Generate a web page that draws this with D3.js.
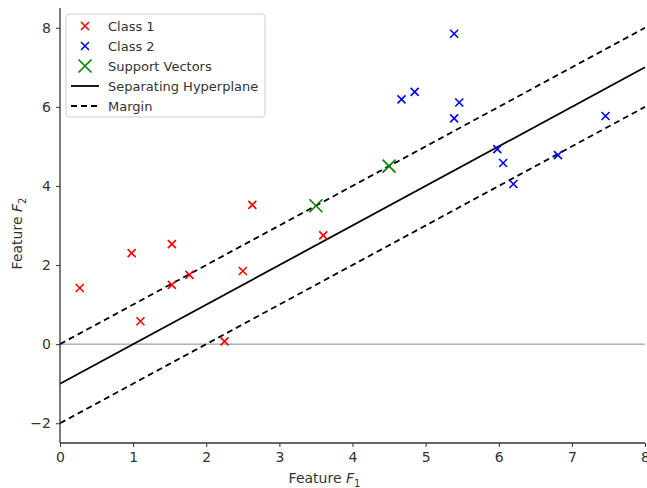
<!DOCTYPE html>
<html>
<head>
<meta charset="utf-8">
<script src="https://cdn.jsdelivr.net/npm/d3@7"></script>
<style>
  body { margin: 0; background: #fff; }
  text { font-family: "DejaVu Sans", sans-serif; fill: #333; }
  .axis path, .axis line { stroke: #333; }
</style>
</head>
<body>
<div id="chart"></div>
<script>
var class1X = [0.27, 0.98, 1.10, 1.53, 1.53, 1.77, 2.25, 2.50, 2.63, 3.60];
var class1Y = [1.42, 2.30, 0.58, 2.53, 1.50, 1.75, 0.07, 1.85, 3.52, 2.75];
var class2X = [5.39, 4.67, 4.85, 5.46, 5.39, 5.98, 6.06, 6.20, 6.81, 7.46];
var class2Y = [7.85, 6.19, 6.38, 6.11, 5.71, 4.93, 4.58, 4.05, 4.78, 5.77];
var supportX = [3.5, 4.5];
var supportY = [3.5, 4.5];
// hyperplane w.x + b: F2 = F1 + offset
var lineOffsets = [-1, 0, -2];
var lineNames = ["Separating Hyperplane", "Margin", "Margin"];
var xTicks = [0, 1, 2, 3, 4, 5, 6, 7, 8];
var yTicks = [-2, 0, 2, 4, 6, 8];

var svgWidth = 647, svgHeight = 488;
var margin = { top: 8, right: 2, bottom: 45, left: 60 };
var chartWidth = svgWidth - margin.left - margin.right;
var chartHeight = svgHeight - margin.top - margin.bottom;

var svg = d3.select("#chart").append("svg")
    .attr("width", svgWidth)
    .attr("height", svgHeight);

var chartGroup = svg.append("g")
    .attr("transform", `translate(${margin.left}, ${margin.top})`);

var x = d3.scaleLinear().domain([0, 8]).range([0, chartWidth]);
var y = d3.scaleLinear().domain([-2.5, 8.5]).range([chartHeight, 0]);

// zero line
chartGroup.append("line")
    .attr("x1", x(0)).attr("x2", x(8))
    .attr("y1", y(0)).attr("y2", y(0))
    .attr("stroke", "#888").attr("stroke-width", 1);

// hyperplane and margins
lineOffsets.forEach(function(off, i) {
    var line = d3.line().x(d => x(d)).y(d => y(d + off));
    chartGroup.append("path")
        .datum([0, 8])
        .attr("d", line)
        .attr("fill", "none")
        .attr("stroke", "#000")
        .attr("stroke-width", 1.8)
        .attr("stroke-dasharray", i == 0 ? null : "6,4");
});

function cross(g, cx, cy, size, color, width) {
    g.append("path")
        .attr("d", `M${cx - size},${cy - size}L${cx + size},${cy + size}M${cx - size},${cy + size}L${cx + size},${cy - size}`)
        .attr("stroke", color)
        .attr("stroke-width", width)
        .attr("fill", "none");
}

class1X.forEach((d, i) => cross(chartGroup, x(d), y(class1Y[i]), 4, "red", 1.6));
class2X.forEach((d, i) => cross(chartGroup, x(d), y(class2Y[i]), 4, "blue", 1.6));
supportX.forEach((d, i) => cross(chartGroup, x(d), y(supportY[i]), 6.5, "green", 1.6));

// axes
var xAxis = chartGroup.append("g")
    .attr("class", "axis")
    .attr("transform", `translate(0, ${chartHeight})`)
    .call(d3.axisBottom(x).tickValues(xTicks).tickSize(4).tickPadding(5).tickFormat(d3.format("d")));
var yAxis = chartGroup.append("g")
    .attr("class", "axis")
    .call(d3.axisLeft(y).tickValues(yTicks).tickSize(4).tickPadding(5).tickFormat(d => d < 0 ? "\u2212" + Math.abs(d) : d));
chartGroup.selectAll(".axis path").attr("stroke-width", 1.3);
chartGroup.selectAll(".axis text").style("font-size", "14px").style("fill", "#333");
chartGroup.selectAll(".axis .domain").attr("d", function() {
    return d3.select(this.parentNode).attr("transform") ? `M0,0H${chartWidth}` : `M0,${chartHeight}V0`;
});

// axis labels
var xl = svg.append("text")
    .attr("x", margin.left + chartWidth / 2 - 28)
    .attr("y", 483)
    .attr("text-anchor", "middle")
    .style("font-size", "14px");
xl.append("tspan").text("Feature ");
xl.append("tspan").style("font-style", "italic").text("F");
xl.append("tspan").attr("dy", 4).style("font-size", "10px").text("1");

var yl = svg.append("text")
    .attr("transform", `translate(22, ${margin.top + chartHeight / 2 + 8}) rotate(-90)`)
    .attr("text-anchor", "middle")
    .style("font-size", "14px");
yl.append("tspan").text("Feature ");
yl.append("tspan").style("font-style", "italic").text("F");
yl.append("tspan").attr("dy", 4).style("font-size", "10px").text("2");

// legend
var legend = svg.append("g").attr("transform", "translate(66, 14)");
legend.append("rect")
    .attr("width", 199).attr("height", 103)
    .attr("rx", 3)
    .attr("fill", "#fff").attr("fill-opacity", 0.8)
    .attr("stroke", "#ccc");
var legendItems = [
    { label: "Class 1", type: "x", color: "red", size: 4 },
    { label: "Class 2", type: "x", color: "blue", size: 4 },
    { label: "Support Vectors", type: "x", color: "green", size: 6.5 },
    { label: lineNames[0], type: "solid" },
    { label: lineNames[1], type: "dash" }
];
legendItems.forEach(function(item, i) {
    var cy = 12 + i * 20;
    if (item.type == "x") {
        cross(legend, 19, cy, item.size, item.color, 1.6);
    } else {
        legend.append("line")
            .attr("x1", 5).attr("x2", 33).attr("y1", cy).attr("y2", cy)
            .attr("stroke", "#000").attr("stroke-width", 1.8)
            .attr("stroke-dasharray", item.type == "dash" ? "6,4" : null);
    }
    legend.append("text")
        .attr("x", 42).attr("y", cy + 4.5)
        .style("font-size", "13px")
        .text(item.label);
});
</script>
</body>
</html>
